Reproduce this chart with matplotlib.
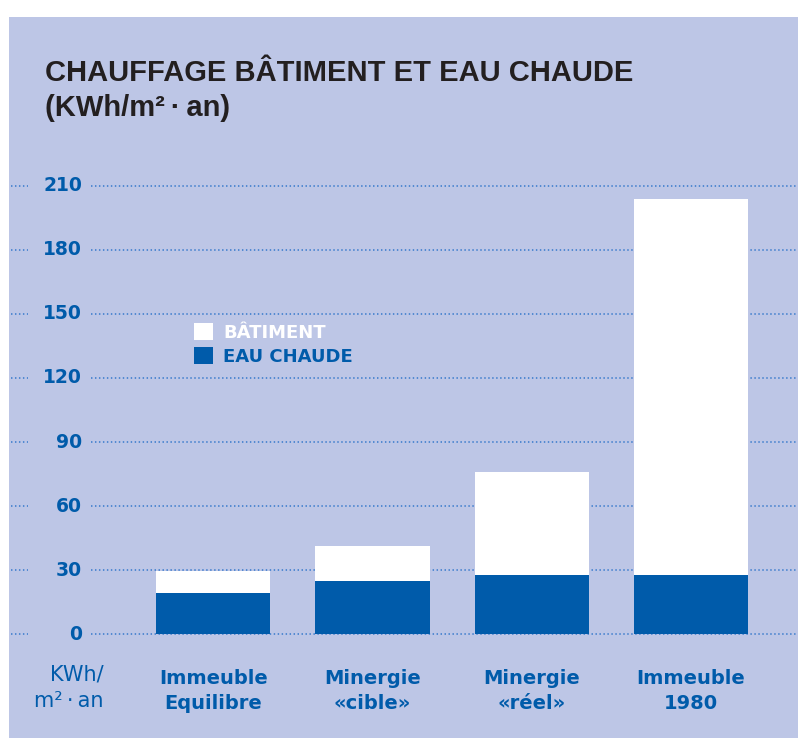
import matplotlib.pyplot as plt
from matplotlib.patches import Patch, Rectangle

# values (KWh/m2 per year)
categories = ["Immeuble\nEquilibre", "Minergie\n«cible»", "Minergie\n«réel»", "Immeuble\n1980"]
eau_chaude = [19.1, 25.0, 27.5, 27.5]
batiment = [10.6, 16.3, 48.5, 176.2]
yticks = [0, 30, 60, 90, 120, 150, 180, 210]

BG = "#bdc6e6"
BLUE = "#005baa"
DOT = "#4a84cf"
DARK = "#231f20"
W, H = 798, 738

fig = plt.figure(figsize=(W / 100, H / 100), dpi=100)
fig.patches.append(Rectangle((9 / W, 0), 1, 1 - 17 / H, transform=fig.transFigure,
                             facecolor=BG, edgecolor="none", zorder=-5))

ax = fig.add_axes([10 / W, 1 - 640 / H, 788 / W, 500 / H])
ax.set_facecolor("none")
ax.set_xlim(-1.277, 3.673)
ax.set_ylim(-2.81, 231.56)
for s in ax.spines.values():
    s.set_visible(False)

# dotted gridlines: short stub on the left, then the long line after the label
tr = ax.get_yaxis_transform()
for y in yticks:
    for x0, x1 in [(1 / 788, 18 / 788), (81 / 788, 1)]:
        ax.plot([x0, x1], [y, y], transform=tr, color=DOT, lw=1.3,
                linestyle=(0, (0.8, 1.4)), zorder=1, clip_on=False)
    ax.text(72 / 788, y, str(y), transform=tr, ha="right", va="center",
            color=BLUE, fontsize=13.5, fontweight="bold")

x = range(len(categories))
ax.bar(x, eau_chaude, width=0.717, color=BLUE, zorder=3)
ax.bar(x, batiment, width=0.717, bottom=eau_chaude, color="white", zorder=3)

ax.set_yticks([])
ax.set_xticks(list(x), categories)
ax.tick_params(axis="x", length=0, pad=21, labelcolor=BLUE, labelsize=14)
for t in ax.get_xticklabels():
    t.set_fontweight("bold")
    t.set_linespacing(1.4)

fig.text(104 / W, 1 - 665 / H, "KWh/\nm²\u2009·\u2009an", ha="right", va="top",
         color=BLUE, fontsize=15, linespacing=1.35)

title_font = {"family": "Liberation Sans", "size": 21, "weight": "bold"}
fig.text(45 / W, 1 - 81 / H, "CHAUFFAGE BÂTIMENT ET EAU CHAUDE", ha="left",
         va="baseline", color=DARK, fontdict=title_font)
fig.text(45 / W, 1 - 116 / H, "(KWh/m²\u2009·\u2009an)", ha="left",
         va="baseline", color=DARK, fontdict=title_font)

handles = [Patch(facecolor="white"), Patch(facecolor=BLUE)]
ax.legend(handles, ["BÂTIMENT", "EAU CHAUDE"], labelcolor=["white", BLUE],
          frameon=False, loc="upper left", bbox_to_anchor=(194 / W, 1 - 323 / H),
          bbox_transform=fig.transFigure, borderaxespad=0, borderpad=0,
          handlelength=1.05, handleheight=1.05, handletextpad=0.55,
          labelspacing=0.33, prop={"size": 13, "weight": "bold"})

fig.savefig("out.png", dpi=100, facecolor="white")
